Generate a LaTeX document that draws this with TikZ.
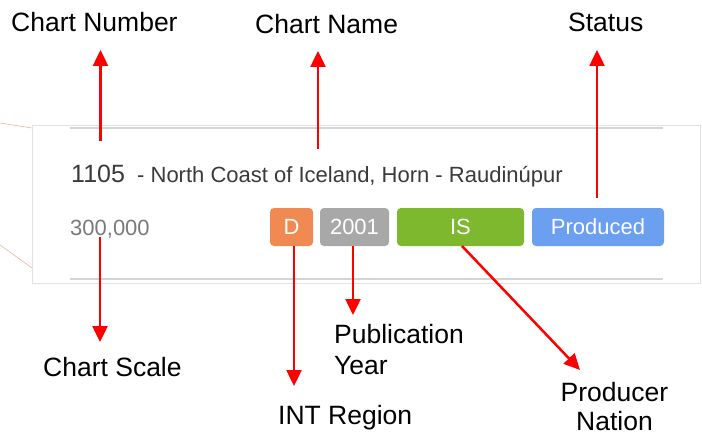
\documentclass[tikz,border=0pt]{standalone}
\usepackage{fontspec}
\setmainfont{Liberation Sans}
\usetikzlibrary{arrows.meta}
\definecolor{arrowred}{HTML}{FF0000}
\definecolor{borderg}{HTML}{E2E2E2}
\definecolor{ruleg}{HTML}{D4D4D4}
\definecolor{darktext}{HTML}{3A3A3A}
\definecolor{scaletext}{HTML}{7A7A7A}
\definecolor{dorange}{HTML}{F08A52}
\definecolor{ygray}{HTML}{A8A8A8}
\definecolor{ngreen}{HTML}{7DB82F}
\definecolor{sblue}{HTML}{6B9FF0}
\definecolor{pinkline}{HTML}{F6A0A0}
\begin{document}
\begin{tikzpicture}[x=1pt,y=-1pt,
  lbl/.style={font=\fontsize{26.5}{31}\selectfont, inner sep=0pt, anchor=base west, text=black},
  callout/.style={draw=arrowred, line width=2.5pt, -{Triangle[width=15pt,length=16pt]}},
  badge/.style={fill=#1, rounded corners=4pt, text=white, font=\fontsize{22}{25}\selectfont, minimum height=38pt, inner sep=0pt}]
\useasboundingbox (0,0) rectangle (702,436);

% thin pink lines at left
\draw[pinkline, line width=0.5pt] (0,123) -- (32,128);
\draw[pinkline, line width=0.5pt] (0,245) -- (32,268);

% card
\draw[borderg, fill=white, line width=1pt] (32,125) rectangle (700,283);
\draw[ruleg, line width=2pt] (70,128) -- (663,128);
\draw[ruleg, line width=2pt] (70,279) -- (663,279);

% card texts
\node[inner sep=0pt, anchor=base west, text=darktext, font=\fontsize{25}{28}\selectfont] (num) at (71,182) {1105};
\node[inner sep=0pt, anchor=base west, text=darktext, font=\fontsize{22}{26}\selectfont] (name) at (137,182) {- North Coast of Iceland, Horn - Raudinúpur};
\node[inner sep=0pt, anchor=base west, text=scaletext, font=\fontsize{22}{26}\selectfont] (scale) at (70,235) {300,000};

% badges
\node[badge=dorange, minimum width=43pt] (D) at (291.5,227) {D};
\node[badge=ygray, minimum width=69pt] (yr) at (354.5,227) {2001};
\node[badge=ngreen, minimum width=127pt] (IS) at (460.5,227) {IS};
\node[badge=sblue, minimum width=132pt] (prod) at (598,227) {Produced};

% labels
\node[lbl] (lnum) at (11,32) {Chart Number};
\node[lbl] (lname) at (255,34) {Chart Name};
\node[lbl] (lstat) at (568,32) {Status};
\node[lbl] (lscale) at (43,376) {Chart Scale};
\node[lbl] (lint) at (278,424) {INT Region};
\node[lbl] (lpub) at (334,343) {Publication};
\node[lbl] (lyear) at (334,374) {Year};
\node[lbl, anchor=base] (lprod) at (614.5,401) {Producer};
\node[lbl, anchor=base] (lnat) at (614.5,430) {Nation};

% arrow ends
\coordinate (numS) at (100.5,141);
\coordinate (numT) at (100.5,50);
\coordinate (nameS) at (318,149);
\coordinate (nameT) at (318,51);
\coordinate (statS) at (597,198);
\coordinate (statT) at (597,50);
\coordinate (scaleS) at (100,237);
\coordinate (scaleT) at (100,342);
\coordinate (intS) at (294,246);
\coordinate (intT) at (294,386);
\coordinate (pubS) at (353,246);
\coordinate (pubT) at (353,315);
\coordinate (prodS) at (462,246);
\coordinate (prodT) at (580,370);

\draw[callout] (numS) -- (numT);
\draw[callout] (nameS) -- (nameT);
\draw[callout] (statS) -- (statT);
\draw[callout] (scaleS) -- (scaleT);
\draw[callout] (intS) -- (intT);
\draw[callout] (pubS) -- (pubT);
\draw[callout] (prodS) -- (prodT);
\end{tikzpicture}
\end{document}
